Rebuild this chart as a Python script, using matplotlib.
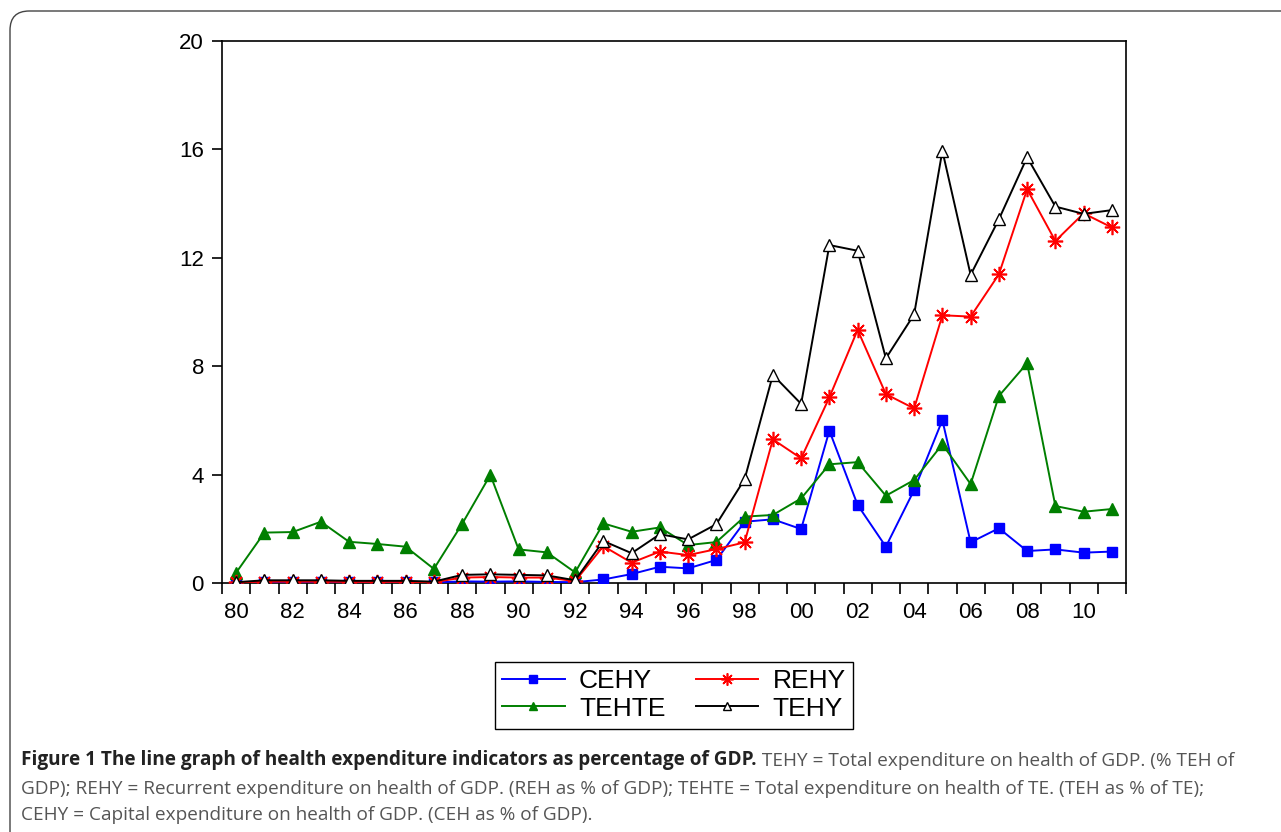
import matplotlib
matplotlib.use('Agg')
import matplotlib.pyplot as plt
import numpy as np
from matplotlib.patches import FancyBboxPatch
from matplotlib.ticker import MultipleLocator, FixedLocator

years = np.arange(1980, 2012)

cehy = [0.02, 0.03, 0.03, 0.03, 0.02, 0.02, 0.02, 0.02, 0.06, 0.05, 0.06, 0.04, 0.03,
        0.13, 0.33, 0.60, 0.54, 0.85, 2.26, 2.35, 1.99, 5.62, 2.88, 1.34, 3.43, 6.01,
        1.50, 2.02, 1.18, 1.24, 1.12, 1.16]
rehy = [0.02, 0.05, 0.05, 0.05, 0.04, 0.04, 0.04, 0.03, 0.20, 0.22, 0.20, 0.20, 0.07,
        1.36, 0.75, 1.16, 1.03, 1.25, 1.50, 5.30, 4.60, 6.85, 9.34, 6.97, 6.44, 9.88,
        9.83, 11.39, 14.53, 12.62, 13.64, 13.12]
tehte = [0.38, 1.86, 1.88, 2.26, 1.52, 1.44, 1.34, 0.52, 2.18, 3.99, 1.24, 1.13, 0.39,
         2.20, 1.89, 2.05, 1.40, 1.51, 2.45, 2.51, 3.12, 4.38, 4.46, 3.22, 3.80, 5.12,
         3.65, 6.90, 8.11, 2.84, 2.63, 2.73]
tehy = [0.03, 0.10, 0.10, 0.10, 0.08, 0.08, 0.08, 0.05, 0.30, 0.32, 0.30, 0.28, 0.10,
        1.55, 1.10, 1.80, 1.61, 2.17, 3.83, 7.68, 6.61, 12.47, 12.26, 8.29, 9.91, 15.95,
        11.37, 13.42, 15.71, 13.89, 13.62, 13.76]

fig = plt.figure(figsize=(12.81, 8.32), dpi=100)
W, H = 1281, 832

# rounded frame around figure
frame = FancyBboxPatch((10 / W, -20 / H), 1300 / W, (821 + 20) / H,
                       boxstyle='round,pad=0,rounding_size=0.015',
                       transform=fig.transFigure, fill=False,
                       edgecolor='#444444', linewidth=1.0, clip_on=False,
                       mutation_aspect=W / H)
fig.patches.append(frame)

ax = fig.add_axes([222 / W, 1 - 583 / H, 904 / W, 542 / H])

ax.plot(years, cehy, color='#0000ff', lw=1.4, marker='s', ms=7, mec='#0000ff',
        label='CEHY', zorder=3)
ax.plot(years, tehte, color='#007f00', lw=1.4, marker='^', ms=8, mec='#007f00',
        label='TEHTE', zorder=3)
ax.plot(years, rehy, color='#ff0000', lw=1.4, marker=(8, 2, 0), ms=11, mew=1.2,
        mec='#ff0000', label='REHY', zorder=4)
ax.plot(years, tehy, color='black', lw=1.4, marker='^', ms=8, mfc='white',
        mec='black', mew=1.0, label='TEHY', zorder=5)

ax.set_xlim(1979.5, 2011.5)
ax.set_ylim(0, 20)

ax.xaxis.set_major_locator(FixedLocator(np.arange(1980, 2012, 2)))
ax.set_xticklabels(['%02d' % (y % 100) for y in range(1980, 2012, 2)])
ax.xaxis.set_minor_locator(FixedLocator(np.arange(1979.5, 2012, 1)))
ax.tick_params(axis='x', which='major', length=0, pad=14, labelsize=16)
ax.tick_params(axis='x', which='minor', length=8, width=1.2, direction='out')
ax.yaxis.set_major_locator(MultipleLocator(4))
ax.tick_params(axis='y', which='major', length=7, width=1.2, direction='out',
               pad=6, labelsize=16)
for lab in ax.get_xticklabels() + ax.get_yticklabels():
    lab.set_fontfamily('Liberation Sans')
for s in ax.spines.values():
    s.set_linewidth(1.2)

leg = fig.legend(loc='center', bbox_to_anchor=(674 / W, 1 - 695 / H), ncol=2,
                 prop={'family': 'Liberation Sans', 'size': 19},
                 fancybox=False, edgecolor='black', framealpha=1,
                 handlelength=2.35, handletextpad=0.55, columnspacing=1.15,
                 labelspacing=0.12, borderpad=0.3, markerscale=0.8)
leg.get_frame().set_linewidth(1.0)

cap_font = 'Open Sans'
cap_size = 13.7
t1 = fig.text(21 / W, 1 - 760 / H,
              'Figure 1 The line graph of health expenditure indicators as percentage of GDP.',
              fontfamily=cap_font, fontweight='bold', fontsize=cap_size, color='#222222',
              va='center', ha='left')
ax.annotate(' TEHY = Total expenditure on health of GDP. (% TEH of',
            xy=(1, 0), xycoords=t1, va='bottom', ha='left',
            fontfamily=cap_font, fontsize=cap_size, color='#555555',
            annotation_clip=False)
fig.text(21 / W, 1 - 789 / H,
         'GDP); REHY = Recurrent expenditure on health of GDP. (REH as % of GDP); '
         'TEHTE = Total expenditure on health of TE. (TEH as % of TE);',
         fontfamily=cap_font, fontsize=cap_size, color='#555555', va='center', ha='left')
fig.text(21 / W, 1 - 815 / H,
         'CEHY = Capital expenditure on health of GDP. (CEH as % of GDP).',
         fontfamily=cap_font, fontsize=cap_size, color='#555555', va='center', ha='left')

fig.savefig('out.png', dpi=100)
